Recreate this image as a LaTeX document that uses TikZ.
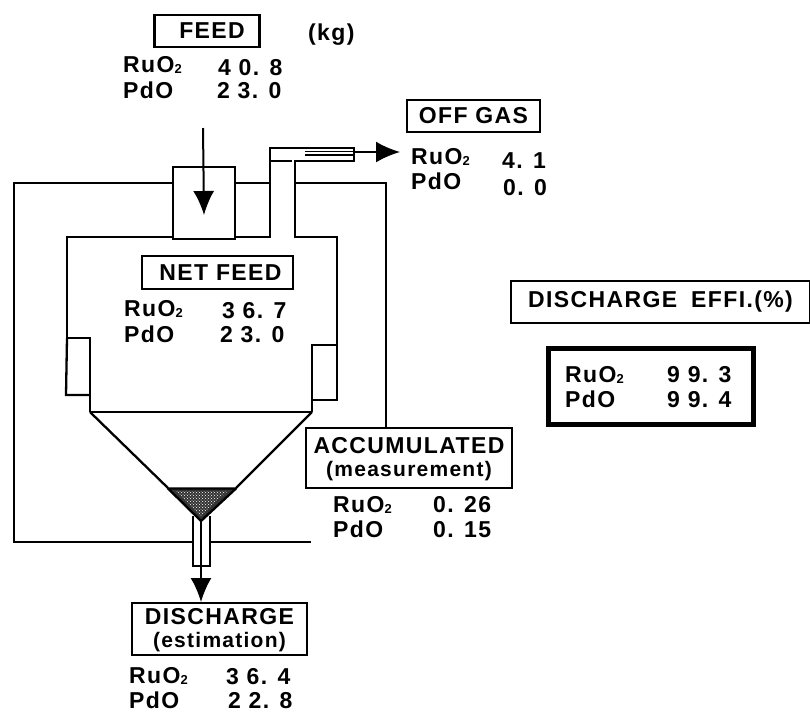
\documentclass[tikz,border=0pt]{standalone}
\usepackage{fontspec}
\setmainfont{Liberation Sans}[LetterSpace=6]
\usetikzlibrary{arrows.meta,patterns}
\newcommand{\RuOx}{RuO\raisebox{-1pt}{\fontsize{13}{13}\selectfont 2}}
\tikzset{
 x=1pt,y=-1pt,
 wall/.style={line width=2.3pt,line join=miter},
 txt/.style={anchor=base west,inner sep=0,font=\fontsize{23}{21}\selectfont\bfseries},
 labelbox/.style={draw,line width=2.5pt,inner sep=0,align=center,font=\fontsize{23}{21}\selectfont\bfseries},
 flow/.style={line width=2pt,-{Latex[length=24pt,width=21pt]}},
}
\begin{document}
\begin{tikzpicture}
\useasboundingbox (0,0) rectangle (810,713);
% labelled boxes
\node[labelbox,minimum width=105pt,minimum height=32pt] (feed) at (207,31) {\hspace{10pt}FEED};
\node[txt] (kg) at (308,40) {(kg)};
\node[txt] (feedru) at (123,72) {\RuOx};
\node[txt] (feedpd) at (123,98) {PdO};
\node[txt] (feedruv) at (218,75) {4 0. 8};
\node[txt] (feedpdv) at (217,98) {2 3. 0};
\node[labelbox,minimum width=133pt,minimum height=32pt] (offgas) at (473.5,116) {OFF GAS};
\node[txt] (offru) at (411,164) {\RuOx};
\node[txt] (offpd) at (411,189) {PdO};
\node[txt] (offruv) at (502,168) {4. 1};
\node[txt] (offpdv) at (503,195) {0. 0};
\node[labelbox,minimum width=151pt,minimum height=33pt] (netfeed) at (217.5,272.5) {\hspace{6pt}NET FEED};
\node[txt] (netru) at (124,316) {\RuOx};
\node[txt] (netpd) at (124,342) {PdO};
\node[txt] (netruv) at (222,318) {3 6. 7};
\node[txt] (netpdv) at (220,342) {2 3. 0};
\node[labelbox,minimum width=206pt,minimum height=60pt] (accum) at (409,458) {\rule{0pt}{18pt}ACCUMULATED\\[2pt]{\fontsize{21}{21}\selectfont (measurement)}};
\node[txt] (accru) at (333,512) {\RuOx};
\node[txt] (accpd) at (333,537) {PdO};
\node[txt] (accruv) at (433,512) {0. 26};
\node[txt] (accpdv) at (433,537) {0. 15};
\node[labelbox,minimum width=175pt,minimum height=52pt] (disch) at (219.5,629) {\rule{0pt}{18pt}DISCHARGE\\[2pt]{\fontsize{21}{21}\selectfont (estimation)}};
\node[txt] (disru) at (129,683) {\RuOx};
\node[txt] (dispd) at (129,708) {PdO};
\node[txt] (disruv) at (226,684) {3 6. 4};
\node[txt] (dispdv) at (228,708) {2 2. 8};
\node[labelbox,minimum width=299pt,minimum height=42pt] (eff) at (660.5,302) {DISCHARGE\hspace{14pt}EFFI.(\%)};
\node[draw,line width=5pt,minimum width=205pt,minimum height=76pt,inner sep=0] (effbox) at (651,386.5) {};
\node[txt] (effru) at (565,382) {\RuOx};
\node[txt] (effpd) at (565,407) {PdO};
\node[txt] (effruv) at (667,382) {9 9. 3};
\node[txt] (effpdv) at (667,407) {9 9. 4};
% outer casing
\draw[wall] (173,183) -- (14,183) -- (14,542) -- (311,542);
\draw[wall] (235,183) -- (270,183);
\draw[wall] (295,183) -- (386,183) -- (386,428);
% inlet
\draw[wall,fill=white] (173,167) rectangle (235,239);
% vessel
\draw[wall] (173,237) -- (67,237) -- (67,338) -- (90,338) -- (90,412);
\draw[wall] (312,412) -- (312,345) -- (337,345) -- (337,237) -- (295,237) -- (295,161) -- (354,161) -- (354,148) -- (270,148) -- (270,237) -- (235,237);
\draw[wall] (270,161) -- (292,161);
\draw[line width=1.4pt] (305,151.5) -- (354,151.5) (305,155) -- (354,155);
\draw[wall] (67,338) -- (66,395) -- (90,395);
\draw[wall] (312,400) -- (337,400) -- (337,345);
% cone and sludge
\fill[white] (193,519) rectangle (210,566);
\draw[wall] (90,412) -- (168,488) (312,412) -- (236,488);
\draw[wall] (193,516) -- (193,566) -- (210,566) -- (210,516);
\fill[black!80] (168,488.5) -- (236,488.5) -- (201,521) -- cycle;
\fill[pattern=crosshatch dots,pattern color=white] (176,491) -- (228,491) -- (201,516) -- cycle;
\draw[wall,line join=round] (168,488.5) -- (236,488.5) -- (201,521) -- cycle;
\draw[wall] (90,412) -- (312,412);
\draw[line width=1.4pt] (201,521) -- (201,566);
% flow arrows
\coordinate (feedstart) at (203,128);
\coordinate (feedend) at (204,215);
\coordinate (gasstart) at (354,152);
\coordinate (gasend) at (400,152);
\coordinate (disstart) at (201,566);
\coordinate (disend) at (201,602);
\draw[flow] (feedstart) -- (feedend);
\draw[flow] (gasstart) -- (gasend);
\draw[flow] (disstart) -- (disend);
\end{tikzpicture}
\end{document}
